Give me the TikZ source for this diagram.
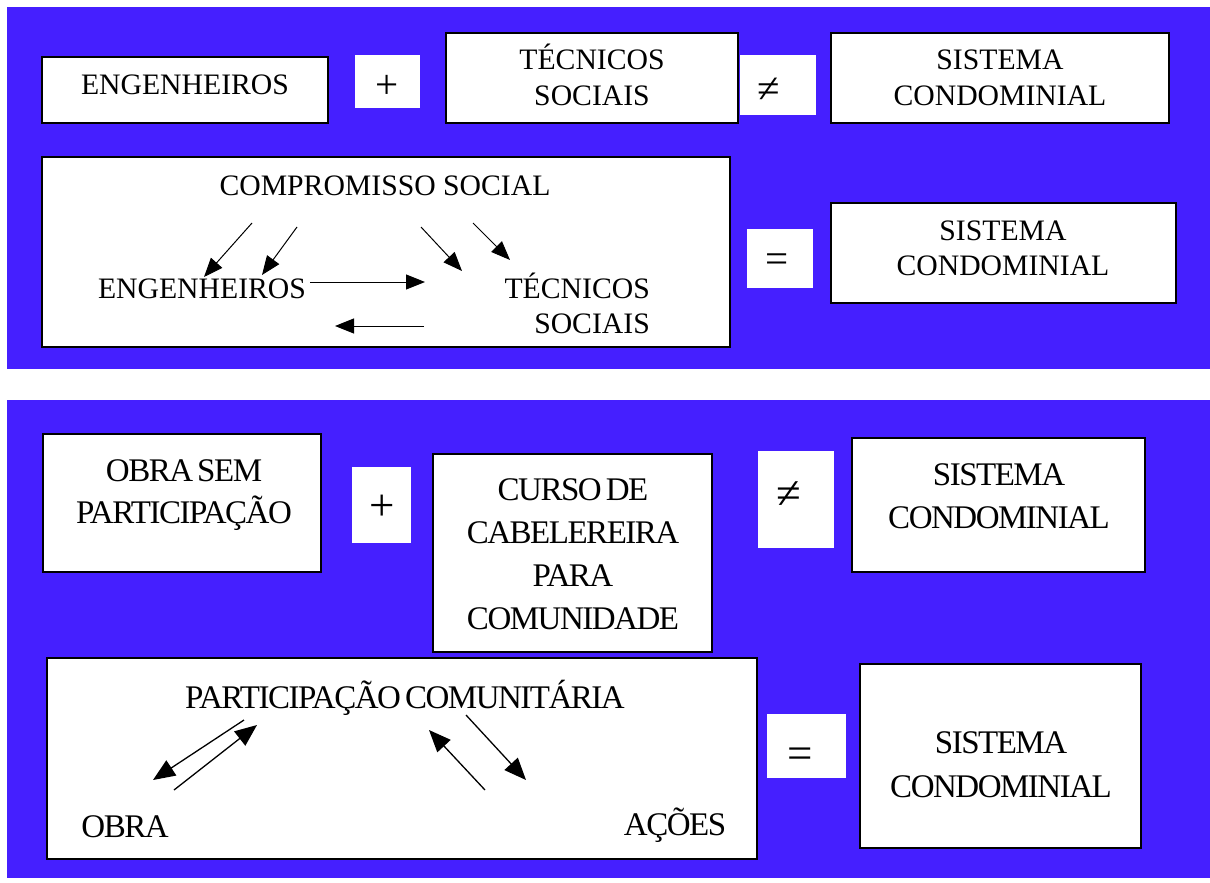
\documentclass[tikz,border=0pt]{standalone}
\usepackage{fontspec}
\setmainfont{Liberation Serif}
\newfontfamily\condfont[LetterSpace=-4.5,WordSpace=0.6]{Liberation Serif}
\usetikzlibrary{arrows.meta,fit}
\definecolor{panelblue}{RGB}{69,31,255}
\begin{document}
\begin{tikzpicture}[x=1pt,y=-1pt,
  box/.style={draw=black,line width=1.3pt,fill=white,inner sep=0pt},
  sym/.style={fill=white,inner sep=0pt},
  topt/.style={font=\fontsize{29.7}{35}\selectfont,inner sep=0pt,anchor=base},
  bott/.style={font=\condfont\fontsize{33}{40}\selectfont,inner sep=0pt,anchor=base},
  symt/.style={font=\fontsize{41}{45}\selectfont,inner sep=0pt,anchor=center},
  symb/.style={font=\fontsize{45}{50}\selectfont,inner sep=0pt,anchor=center},
  arr/.style={line width=1pt,-{Triangle[length=19pt,width=15pt]}},
  arrb/.style={line width=1.3pt,-{Triangle[length=22pt,width=18pt]}}]
\useasboundingbox (0,0) rectangle (1210,883);
% panels
\fill[panelblue] (7,7) rectangle (1210,369);
\fill[panelblue] (7,400) rectangle (1210,878);

% ---------- top panel ----------
\node[box,fit={(42,57) (328,123)}] (bE) {};
\node[sym,fit={(355,55) (420,108)}] (plus1) {};
\node[box,fit={(446,33) (738,123)}] (bT) {};
\node[sym,fit={(740,55) (816,115)}] (neq1) {};
\node[box,fit={(831,33) (1169,123)}] (bS1) {};
\node[box,fit={(42,157) (730,347)}] (big1) {};
\node[sym,fit={(747,229) (813,288)}] (eq1) {};
\node[box,fit={(831,203) (1176,303)}] (bS2) {};

\node[topt] (tE) at (185,95) {ENGENHEIROS};
\node[symt] (tPlus1) at (387,87) {+};
\node[topt] (tT1) at (592,70) {TÉCNICOS};
\node[topt] (tT2) at (592,105) {SOCIAIS};
\node[symt] (tNeq1) at (769,90) {≠};
\node[topt] (tS1a) at (1000,70) {SISTEMA};
\node[topt] (tS1b) at (1000,105) {CONDOMINIAL};

\node[topt] (tComp) at (385,195) {COMPROMISSO SOCIAL};
\node[topt] (tEi) at (202,298) {ENGENHEIROS};
\node[topt,anchor=base east] (tTi1) at (650,298) {TÉCNICOS};
\node[topt,anchor=base east] (tTi2) at (650,333) {SOCIAIS};
\node[symt] (tEq1) at (777,263) {=};
\node[topt] (tS2a) at (1003,240) {SISTEMA};
\node[topt] (tS2b) at (1003,275) {CONDOMINIAL};

\coordinate (a1s) at (252,223); \coordinate (a1e) at (204,277);
\coordinate (a2s) at (297,227); \coordinate (a2e) at (262,275);
\coordinate (a3s) at (421,227); \coordinate (a3e) at (462,271);
\coordinate (a4s) at (473,223); \coordinate (a4e) at (510,260);
\coordinate (a5s) at (310,282); \coordinate (a5e) at (425,282);
\coordinate (a6s) at (424,326); \coordinate (a6e) at (335,326);
\draw[arr] (a1s) -- (a1e);
\draw[arr] (a2s) -- (a2e);
\draw[arr] (a3s) -- (a3e);
\draw[arr] (a4s) -- (a4e);
\draw[arr] (a5s) -- (a5e);
\draw[arr] (a6s) -- (a6e);

% ---------- bottom panel ----------
\node[box,fit={(43,434) (321,572)}] (bO) {};
\node[sym,fit={(352,467) (411,543)}] (plus2) {};
\node[box,fit={(433,454) (712,652)}] (bC) {};
\node[sym,fit={(758,451) (834,548)}] (neq2) {};
\node[box,fit={(852,438) (1145,572)}] (bS3) {};
\node[box,fit={(47,658) (757,859)}] (big2) {};
\node[sym,fit={(767,714) (846,778)}] (eq2) {};
\node[box,fit={(860,664) (1141,848)}] (bS4) {};

\node[bott] (tO1) at (184,481) {OBRA SEM};
\node[bott] (tO2) at (184,523) {PARTICIPAÇÃO};
\node[symb] (tPlus2) at (382,508) {+};
\node[bott] (tC1) at (573,500) {CURSO DE};
\node[bott] (tC2) at (573,543) {CABELEREIRA};
\node[bott] (tC3) at (573,586) {PARA};
\node[bott] (tC4) at (573,629) {COMUNIDADE};
\node[symb] (tNeq2) at (789,495) {≠};
\node[bott] (tS3a) at (999,485) {SISTEMA};
\node[bott] (tS3b) at (999,528) {CONDOMINIAL};

\node[bott] (tPart) at (405,708) {PARTICIPAÇÃO COMUNITÁRIA};
\node[bott] (tObra) at (125,837) {OBRA};
\node[bott] (tAcoes) at (675,835) {AÇÕES};
\node[symb] (tEq2) at (800,758) {=};
\node[bott] (tS4a) at (1001,753) {SISTEMA};
\node[bott] (tS4b) at (1001,797) {CONDOMINIAL};

\coordinate (b1s) at (244,720); \coordinate (b1e) at (153,780);
\coordinate (b2s) at (174,790); \coordinate (b2e) at (257,725);
\coordinate (b3s) at (485,790); \coordinate (b3e) at (429,730);
\coordinate (b4s) at (466,715); \coordinate (b4e) at (526,780);
\draw[arrb] (b1s) -- (b1e);
\draw[arrb] (b2s) -- (b2e);
\draw[arrb] (b3s) -- (b3e);
\draw[arrb] (b4s) -- (b4e);
\end{tikzpicture}
\end{document}
